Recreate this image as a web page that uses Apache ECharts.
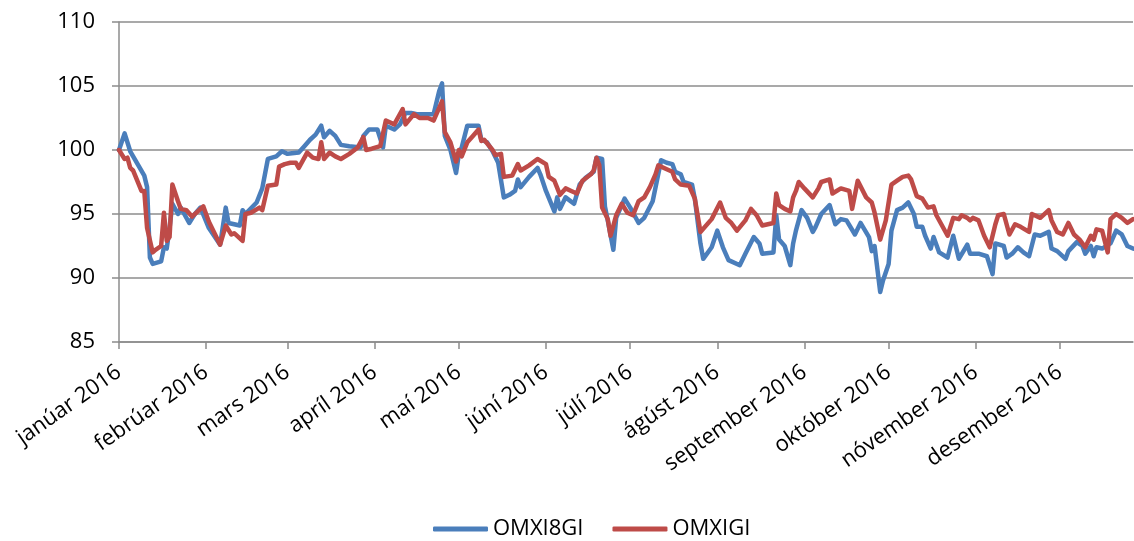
<!DOCTYPE html>
<html>
<head>
<meta charset="utf-8">
<script src="https://cdn.jsdelivr.net/npm/echarts@6/dist/echarts.min.js"></script>
<style>
html,body{margin:0;padding:0;background:#fff;}
#chart{width:1134px;height:541px;}
</style>
</head>
<body>
<div id="chart"></div>
<script>
const monthLabels = ['janúar 2016','febrúar 2016','mars 2016','apríl 2016','maí 2016','júní 2016','júlí 2016','ágúst 2016','september 2016','október 2016','nóvember 2016','desember 2016'];
const yTicks = [85, 90, 95, 100, 105, 110];
const seriesNames = ['OMXI8GI', 'OMXIGI'];

const blueDates = ['01-01','01-03','01-05','01-10','01-11','01-12','01-13','01-16','01-17','01-18','01-19','01-20','01-22','01-23','01-26','01-28','01-30',
'02-02','02-06','02-08','02-09','02-13','02-14','02-15','02-19','02-21','02-23','02-26','02-28',
'03-01','03-05','03-07','03-09','03-11','03-13','03-14','03-16','03-18','03-20','03-23','03-27','03-28','03-30',
'04-02','04-04','04-05','04-08','04-10','04-12','04-14','04-16','04-20','04-22','04-24','04-25','04-26','04-28','04-30',
'05-01','05-02','05-04','05-08','05-09','05-11','05-13','05-15','05-17','05-19','05-21','05-22','05-23','05-26','05-29','05-30',
'06-01','06-04','06-05','06-06','06-08','06-11','06-13','06-15','06-18','06-19','06-21','06-22','06-23','06-25','06-26','06-29',
'07-01','07-02','07-04','07-06','07-09','07-12','07-14','07-16','07-17','07-19','07-20','07-23','07-24','07-26','07-27','07-30',
'08-01','08-03','08-05','08-09','08-11','08-14','08-16','08-17','08-21','08-22','08-23','08-25','08-27','08-28','08-29','08-31',
'09-02','09-04','09-05','09-07','09-10','09-12','09-14','09-16','09-19','09-21','09-24','09-25','09-26','09-28','09-29',
'10-01','10-02','10-04','10-06','10-08','10-10','10-11','10-13','10-14','10-16','10-17','10-19','10-22','10-24','10-26','10-29','10-30',
'11-02','11-05','11-07','11-08','11-11','11-12','11-14','11-16','11-18','11-20','11-22','11-24','11-27','11-28','11-30',
'12-03','12-04','12-07','12-09','12-10','12-12','12-13','12-14','12-16','12-19','12-21','12-23','12-25','12-27'];
const blueValues = [100.0,101.3,99.9,98.0,97.1,91.6,91.1,91.3,92.4,92.3,93.9,95.8,95.0,95.5,94.3,95.0,95.5,
93.9,92.6,95.5,94.3,94.1,95.3,95.0,95.9,97.0,99.3,99.5,99.9,
99.7,99.8,100.3,100.8,101.2,101.9,101.0,101.5,101.1,100.4,100.3,100.2,101.1,101.6,
101.6,100.2,101.9,101.6,102.0,102.9,102.9,102.8,102.8,102.8,104.6,105.2,101.1,100.0,98.2,
99.7,100.2,101.9,101.9,100.8,100.6,99.9,99.0,96.3,96.5,96.8,97.7,97.1,97.9,98.6,98.1,
96.8,95.2,96.3,95.4,96.3,95.8,97.3,97.8,98.3,99.4,99.3,95.6,94.5,92.2,94.7,96.2,
95.5,95.1,94.3,94.7,96.0,99.2,99.0,98.9,98.3,98.1,97.5,97.3,96.2,92.7,91.5,92.4,
93.7,92.4,91.4,91.0,91.9,93.2,92.7,91.9,92.0,94.9,93.0,92.5,91.0,92.7,93.7,95.3,
94.7,93.6,94.0,95.0,95.7,94.2,94.6,94.5,93.4,94.3,93.2,92.1,92.5,88.9,89.8,
91.1,93.7,95.3,95.5,95.9,95.0,94.0,94.0,93.3,92.3,93.2,92.0,91.6,93.3,91.5,92.6,91.9,
91.9,91.7,90.3,92.7,92.5,91.6,91.9,92.4,92.0,91.7,93.4,93.3,93.6,92.3,92.1,
91.5,92.1,92.8,92.5,91.9,92.5,91.7,92.4,92.3,92.7,93.7,93.4,92.5,92.3];

const redDates = ['01-01','01-03','01-04','01-05','01-06','01-09','01-10','01-11','01-13','01-14','01-16','01-17','01-18','01-19','01-20','01-22','01-23','01-25','01-27','01-31',
'02-02','02-06','02-08','02-10','02-11','02-14','02-15','02-17','02-20','02-21','02-23','02-26','02-27','02-29',
'03-02','03-04','03-05','03-08','03-10','03-12','03-13','03-14','03-16','03-18','03-20','03-23','03-26','03-28','03-29','03-31',
'04-03','04-05','04-08','04-11','04-12','04-15','04-17','04-20','04-22','04-25','04-26','04-28','04-30',
'05-01','05-02','05-04','05-06','05-08','05-09','05-10','05-13','05-14','05-16','05-17','05-20','05-22','05-23','05-26','05-29',
'06-01','06-02','06-04','06-06','06-08','06-10','06-12','06-14','06-17','06-18','06-19','06-20','06-21','06-23','06-24','06-26','06-28','06-30',
'07-02','07-04','07-06','07-08','07-10','07-11','07-14','07-16','07-17','07-19','07-22','07-24','07-26','07-30',
'08-02','08-04','08-06','08-08','08-11','08-13','08-15','08-17','08-19','08-21','08-22','08-23','08-25','08-27','08-28','08-29','08-30',
'09-01','09-04','09-06','09-07','09-10','09-11','09-14','09-17','09-18','09-20','09-23','09-25','09-26','09-28','09-30',
'10-02','10-04','10-06','10-08','10-09','10-11','10-13','10-15','10-17','10-18','10-22','10-24','10-26','10-27','10-29','10-30','10-31',
'11-02','11-04','11-06','11-08','11-09','11-11','11-13','11-15','11-17','11-20','11-21','11-24','11-27','11-28','11-30',
'12-02','12-04','12-06','12-08','12-10','12-12','12-13','12-14','12-16','12-18','12-19','12-21','12-23','12-25','12-27'];
const redValues = [100.0,99.3,99.4,98.6,98.4,96.8,96.8,93.9,92.0,92.2,92.5,95.1,92.9,93.2,97.3,96.0,95.4,95.3,94.8,95.6,
94.4,92.6,94.1,93.4,93.5,92.9,95.0,95.1,95.5,95.3,97.2,97.3,98.7,98.9,
99.0,99.0,98.6,99.8,99.4,99.3,100.6,99.3,99.8,99.5,99.3,99.7,100.2,101.0,100.0,100.1,
100.3,102.3,102.0,103.2,102.0,102.8,102.5,102.5,102.3,103.8,101.4,100.6,99.1,
100.0,99.5,100.6,101.1,101.6,100.7,100.8,100.0,99.6,99.7,97.9,98.0,98.9,98.4,98.8,99.3,
98.9,97.9,97.6,96.5,97.0,96.8,96.6,97.6,98.1,98.4,99.4,98.8,95.5,94.6,93.3,94.9,95.8,95.1,
94.9,96.0,96.3,97.1,98.1,98.8,98.5,98.3,97.7,97.3,97.2,96.2,93.6,94.6,
95.9,94.7,94.3,93.7,94.5,95.4,94.9,94.1,94.2,94.3,96.6,95.7,95.4,95.2,96.3,96.8,97.5,
97.0,96.3,97.0,97.5,97.7,96.6,97.0,96.8,95.4,97.6,96.3,95.9,95.1,93.0,94.5,
97.3,97.6,97.9,98.0,97.7,96.4,96.2,95.5,95.6,94.9,93.3,94.7,94.6,94.9,94.7,94.5,94.7,
94.5,93.3,92.4,94.2,94.9,95.0,93.4,94.2,94.0,93.6,95.0,94.7,95.3,94.5,93.6,
93.4,94.3,93.4,93.0,92.4,93.3,93.0,93.8,93.7,92.0,94.6,95.0,94.7,94.3,94.6];

// calendar-day categories for the x axis
const axisDays = [];
for (let t = Date.UTC(2016, 0, 1); t <= Date.UTC(2016, 11, 27); t += 86400000) {
  axisDays.push(new Date(t).toISOString().slice(0, 10));
}
const pair = (dates, vals) => dates.map((d, i) => ['2016-' + d, vals[i]]);
const isMonthStart = (idx, val) => val.slice(8, 10) === '01';

const FONT = '"Open Sans", "Liberation Sans", sans-serif';
const GRID = '#8c8c8c';

const chart = echarts.init(document.getElementById('chart'), null, {renderer: 'canvas'});
chart.setOption({
  animation: false,
  backgroundColor: '#ffffff',
  grid: {left: 119, right: 1, top: 22, bottom: 199, containLabel: false},
  legend: {
    data: seriesNames,
    left: 428, top: 513,
    icon: 'roundRect',
    itemWidth: 55, itemHeight: 5,
    itemGap: 29,
    textStyle: {fontFamily: FONT, fontSize: 22, color: '#000'}
  },
  xAxis: {
    type: 'category',
    data: axisDays,
    boundaryGap: false,
    axisLine: {show: true, lineStyle: {color: GRID, width: 1.5}},
    axisTick: {show: true, interval: isMonthStart, length: 7, lineStyle: {color: GRID, width: 1.5}},
    axisLabel: {
      interval: isMonthStart,
      rotate: 35,
      margin: 28,
      fontFamily: FONT, fontSize: 22, color: '#000',
      formatter: v => monthLabels[parseInt(v.slice(5, 7), 10) - 1]
    },
    splitLine: {show: false}
  },
  yAxis: {
    type: 'value',
    min: yTicks[0], max: yTicks[yTicks.length - 1], interval: 5,
    axisLine: {show: true, lineStyle: {color: GRID, width: 1.5}},
    axisTick: {show: true, length: 7, lineStyle: {color: GRID, width: 1.5}},
    axisLabel: {margin: 24, fontFamily: FONT, fontSize: 22, color: '#000'},
    splitLine: {show: true, lineStyle: {color: GRID, width: 1.5}}
  },
  series: [
    {
      name: seriesNames[0], type: 'line', data: pair(blueDates, blueValues),
      showSymbol: false, symbol: 'none',
      lineStyle: {color: '#4a7ebb', width: 4.5, join: 'round', cap: 'round'},
      itemStyle: {color: '#4a7ebb'}
    },
    {
      name: seriesNames[1], type: 'line', data: pair(redDates, redValues),
      showSymbol: false, symbol: 'none',
      lineStyle: {color: '#be4b48', width: 4.5, join: 'round', cap: 'round'},
      itemStyle: {color: '#be4b48'}
    }
  ]
});
</script>
</body>
</html>
